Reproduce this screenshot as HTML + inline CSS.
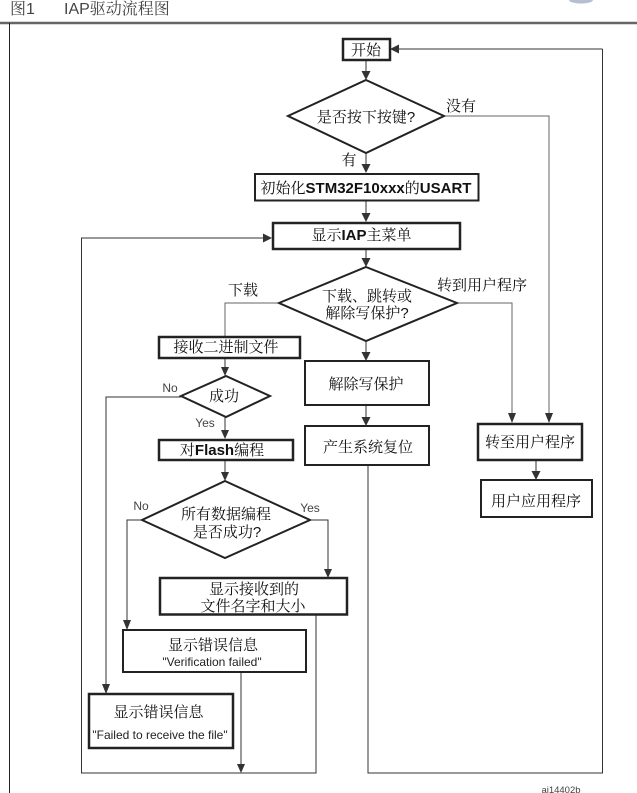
<!DOCTYPE html>
<html>
<head>
<meta charset="utf-8">
<style>
html,body{margin:0;padding:0;background:#fff;width:637px;height:793px;overflow:hidden}
svg{display:block}
text{font-family:"Liberation Sans","Noto Serif CJK SC",serif;fill:#111;text-anchor:middle;font-size:15px}
.s{font-family:"Liberation Sans",sans-serif;font-size:12px;fill:#222}
.l{font-family:"Liberation Sans",sans-serif;font-size:12px;fill:#444}
.b{font-weight:bold;font-family:"Liberation Sans",sans-serif}
.box{fill:#fff;stroke:#222}
.ln{fill:none;stroke:#333;stroke-width:1}
.lg{fill:none;stroke:#666;stroke-width:1}
.ar{fill:#333;stroke:none}
</style>
</head>
<body>
<svg width="637" height="793" viewBox="0 0 637 793" xmlns="http://www.w3.org/2000/svg">
<ellipse cx="581" cy="0" rx="12" ry="3.500" fill="#b4bfd0"/>
<text x="10" y="14" style="text-anchor:start;fill:#444;font-size:16px">图1</text>
<text x="64" y="14" style="text-anchor:start;fill:#444;font-size:16px">IAP驱动流程图</text>
<path d="M0 23H637" stroke="#666" stroke-width="2.500"/>
<path d="M9.500 23V793" stroke="#222" stroke-width="1"/>

<!-- connectors -->
<path class="ln" d="M366 60V72"/><path class="ar" d="M361.500 71h9l-4.500 9z"/>
<path class="ln" d="M602.500 49H398M602.500 49V773H368V465"/>
<path class="ar" d="M390 49l9-4.500v9z"/>
<path class="lg" d="M444 116H549V414"/><path class="ar" d="M545 413h8l-4 10z"/>
<path class="ln" d="M366 153V165"/><path class="ar" d="M361.500 164h9l-4.500 9z"/>
<path class="ln" d="M366 201V214"/><path class="ar" d="M361.500 213h9l-4.500 9z"/>
<path class="ln" d="M366 249V259"/><path class="ar" d="M361.500 258h9l-4.500 9z"/>
<path class="ln" d="M264 238H81.500V773H316V615"/><path class="ar" d="M272 238l-9-4.500v9z"/>
<path class="lg" d="M279 303H225V336"/>
<path class="lg" d="M457 303H512V414"/><path class="ar" d="M508 413h8l-4 10z"/>
<path class="ln" d="M366 341V353"/><path class="ar" d="M361.500 352h9l-4.500 9z"/>
<path class="ln" d="M366 405V418"/><path class="ar" d="M361.500 417h9l-4.500 9z"/>
<path class="ln" d="M536 460V472"/><path class="ar" d="M531.500 471h9l-4.500 9z"/>
<path class="ln" d="M225 358V368"/><path class="ar" d="M221 367h8l-4 9z"/>
<path class="ln" d="M225 417V431"/><path class="ar" d="M221 430h8l-4 9z"/>
<path class="ln" d="M225 460V473"/><path class="ar" d="M221 472h8l-4 9z"/>
<path class="ln" d="M181 397H106V685"/><path class="ar" d="M102 684h8l-4 10z"/>
<path class="ln" d="M142 520H127V621"/><path class="ar" d="M123 620h8l-4 10z"/>
<path class="ln" d="M310 520H328V570"/><path class="ar" d="M324 569h8l-4 9z"/>
<path class="ln" d="M241 672V765"/><path class="ar" d="M237 764h8l-4 9z"/>

<!-- nodes -->
<rect class="box" x="343" y="39" width="47" height="21" stroke-width="2.500"/>
<text x="366" y="55">开始</text>

<path class="box" stroke-width="2" d="M366 80L444 116L366 153L288 116Z"/>
<text x="366" y="122">是否按下按键?</text>

<rect class="box" x="255" y="174" width="223.500" height="26.500" stroke-width="2"/>
<text x="366" y="193">初始化<tspan class="b">STM32F10xxx</tspan>的<tspan class="b">USART</tspan></text>

<rect class="box" x="273" y="223" width="187" height="26" stroke-width="2.500"/>
<text x="361.500" y="240">显示<tspan class="b">IAP</tspan>主菜单</text>

<path class="box" stroke-width="2" d="M366 267L457 303L366 341L279 303Z"/>
<text x="367" y="301">下载、跳转或</text>
<text x="367" y="318">解除写保护?</text>

<rect class="box" x="159" y="337" width="141" height="21" stroke-width="2.500"/>
<text x="226" y="352">接收二进制文件</text>

<path class="box" stroke-width="2" d="M226 376L270 396L226 417L181 396Z"/>
<text x="224" y="401">成功</text>

<rect class="box" x="159" y="440" width="134" height="20" stroke-width="2.500"/>
<text x="222" y="455">对<tspan class="b">Flash</tspan>编程</text>

<path class="box" stroke-width="2" d="M225 481L310 520L225 558L142 520Z"/>
<text x="226" y="519">所有数据编程</text>
<text x="227" y="537">是否成功?</text>

<rect class="box" x="305" y="361" width="124" height="44" stroke-width="2"/>
<text x="366" y="389">解除写保护</text>

<rect class="box" x="305" y="426" width="124" height="39" stroke-width="2"/>
<text x="368" y="452">产生系统复位</text>

<rect class="box" x="478" y="424" width="104" height="36" stroke-width="2.500"/>
<text x="530" y="447">转至用户程序</text>

<rect class="box" x="481" y="480" width="111" height="37" stroke-width="2"/>
<text x="536" y="506">用户应用程序</text>

<rect class="box" x="160" y="578" width="187" height="36.500" stroke-width="2.500"/>
<text x="254" y="594">显示接收到的</text>
<text x="253" y="611">文件名字和大小</text>

<rect class="box" x="123" y="630" width="183" height="42" stroke-width="2"/>
<text x="213" y="650">显示错误信息</text>
<text class="s" x="212" y="666">"Verification failed"</text>

<rect class="box" x="89" y="694" width="144" height="54" stroke-width="2.500"/>
<text x="158.500" y="717">显示错误信息</text>
<text class="s" x="160" y="739">"Failed to receive the file"</text>

<!-- labels -->
<text x="461" y="111">没有</text>
<text x="349" y="165">有</text>
<text x="243" y="295">下载</text>
<text x="482" y="290">转到用户程序</text>
<text class="l" x="170" y="392">No</text>
<text class="l" x="205" y="427">Yes</text>
<text class="l" x="141" y="510">No</text>
<text class="l" x="310" y="512">Yes</text>
<text class="l" x="561" y="793" style="font-size:9.500px">ai14402b</text>
</svg>
</body>
</html>
